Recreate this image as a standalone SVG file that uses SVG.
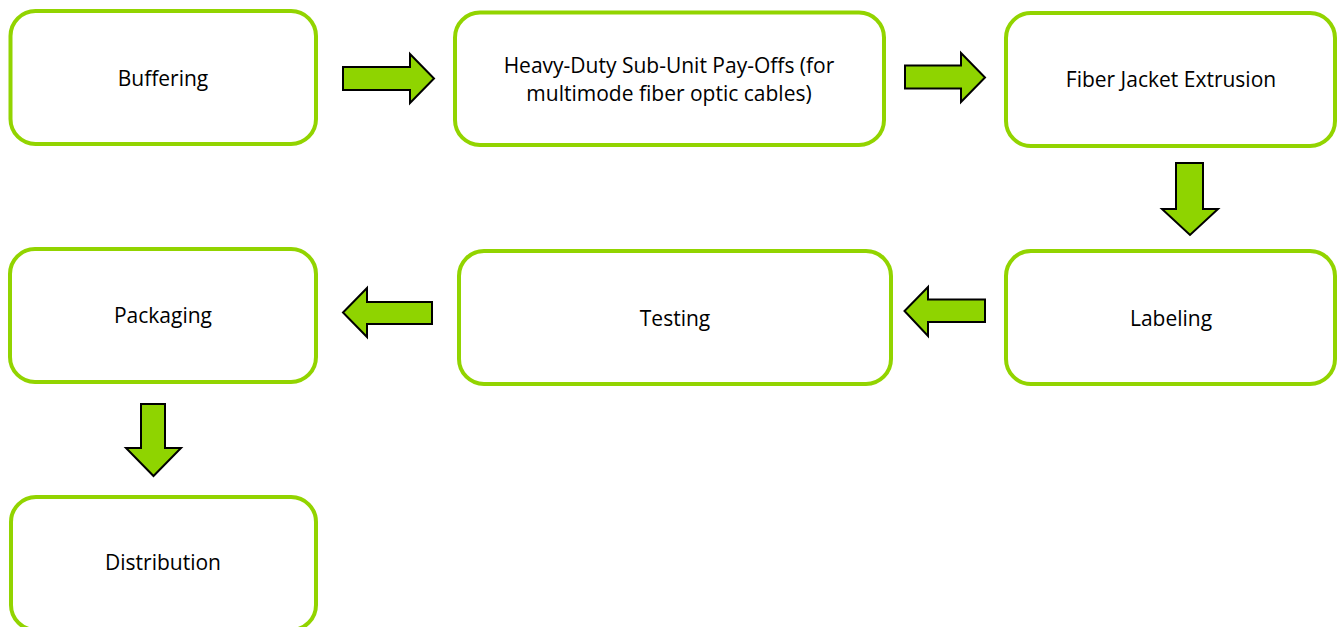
<svg xmlns="http://www.w3.org/2000/svg" width="1338" height="627" viewBox="0 0 1338 627">
  <style>
    .box { fill: #ffffff; stroke: #92D400; stroke-width: 4; }
    .lbl { font-family: "Open Sans", "Liberation Sans", sans-serif; font-size: 21px; fill: #000000; text-anchor: middle; }
    .arr { fill: #8FD400; stroke: #000000; stroke-width: 2; stroke-linejoin: miter; }
  </style>
  <rect width="1338" height="627" fill="#ffffff"/>
  <g id="connectors">
    <path class="arr" d="M343,67 L410,67 L410,54 L434,78.5 L410,103 L410,90 L343,90 Z"/>
    <path class="arr" d="M905,65.5 L961,65.5 L961,53 L985,77.5 L961,102 L961,88.5 L905,88.5 Z"/>
    <path class="arr" d="M1176,163 L1203,163 L1203,209 L1218,209 L1190,235 L1162,209 L1176,209 Z"/>
    <path class="arr" d="M985,299.5 L928,299.5 L928,287 L904.5,311 L928,336 L928,322 L985,322 Z"/>
    <path class="arr" d="M432,302 L367,302 L367,288 L343,312.5 L367,337 L367,324 L432,324 Z"/>
    <path class="arr" d="M141,404 L165,404 L165,448 L181,448 L153.5,476 L126,448 L141,448 Z"/>
  </g>
  <g id="node-buffering">
    <rect class="box" x="10.5" y="11" width="305.5" height="133" rx="25"/>
    <text class="lbl" x="163" y="86">Buffering</text>
  </g>
  <g id="node-payoffs">
    <rect class="box" x="455" y="12.5" width="429" height="132.5" rx="25"/>
    <text class="lbl" x="669" y="73">Heavy-Duty Sub-Unit Pay-Offs (for</text>
    <text class="lbl" x="669" y="101">multimode fiber optic cables)</text>
  </g>
  <g id="node-jacket">
    <rect class="box" x="1006" y="13" width="329" height="133" rx="25"/>
    <text class="lbl" x="1171" y="87">Fiber Jacket Extrusion</text>
  </g>
  <g id="node-labeling">
    <rect class="box" x="1006" y="251" width="329" height="133" rx="25"/>
    <text class="lbl" x="1171" y="326">Labeling</text>
  </g>
  <g id="node-testing">
    <rect class="box" x="459" y="251" width="432" height="133" rx="25"/>
    <text class="lbl" x="675" y="326">Testing</text>
  </g>
  <g id="node-packaging">
    <rect class="box" x="10" y="249" width="306" height="133" rx="25"/>
    <text class="lbl" x="163" y="323">Packaging</text>
  </g>
  <g id="node-distribution">
    <rect class="box" x="11" y="497" width="305" height="133" rx="25"/>
    <text class="lbl" x="163" y="570">Distribution</text>
  </g>
</svg>
